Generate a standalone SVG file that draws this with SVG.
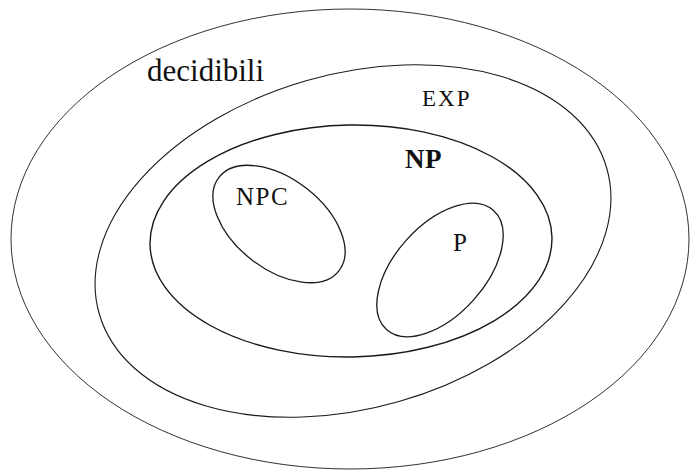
<svg xmlns="http://www.w3.org/2000/svg" width="690" height="471" viewBox="0 0 690 471">
<style>
.set{fill:none;stroke:#1a1a1a}
.lbl{font-family:"Liberation Serif","Times New Roman",serif;fill:#111}
</style>
<rect width="690" height="471" fill="#fff"/>
<g id="decidibili">
<ellipse class="set" cx="350" cy="239" rx="339" ry="230" stroke-width="0.9" stroke="#444"/>
<text class="lbl" x="147" y="81" font-size="31">decidibili</text>
</g>
<g id="EXP">
<ellipse class="set" cx="353" cy="241" rx="264" ry="167" transform="rotate(-16 353 241)" stroke-width="1.1"/>
<text class="lbl" x="422" y="106" font-size="23" letter-spacing="2">EXP</text>
</g>
<g id="NP">
<ellipse class="set" cx="351" cy="241" rx="201" ry="116" transform="rotate(-1 351 241)" stroke-width="1.4"/>
<text class="lbl" x="405" y="168" font-size="27" font-weight="bold" letter-spacing="0.5">NP</text>
</g>
<g id="NPC">
<ellipse class="set" cx="279" cy="224" rx="76" ry="45" transform="rotate(38 279 224)" stroke-width="1.3"/>
<text class="lbl" x="236" y="205" font-size="25" letter-spacing="1.5">NPC</text>
</g>
<g id="P">
<ellipse class="set" cx="440" cy="270" rx="80" ry="45" transform="rotate(-48 440 270)" stroke-width="1.3"/>
<text class="lbl" x="453" y="251" font-size="25">P</text>
</g>
<g id="connectors"/>
</svg>
